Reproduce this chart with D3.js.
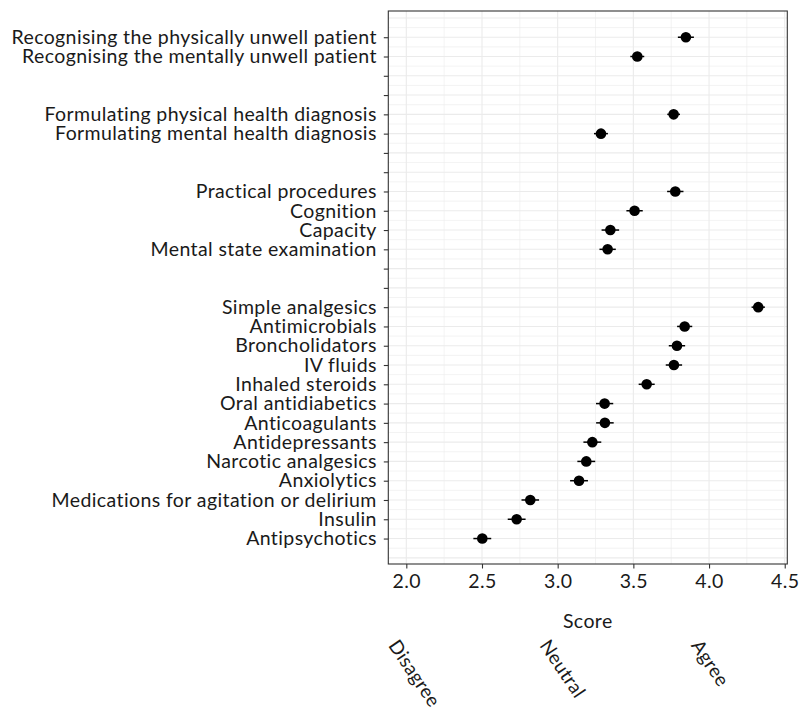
<!DOCTYPE html>
<html><head><meta charset="utf-8">
<script src="https://cdn.jsdelivr.net/npm/d3@7"></script>
<style>body{margin:0;background:#fff}text{font-family:Lato,"Open Sans",sans-serif;font-weight:400;letter-spacing:0.4px}</style>
</head><body><svg id="c" width="807" height="715"></svg>
<script>
const categories = [
 "Recognising the physically unwell patient","Recognising the mentally unwell patient","","",
 "Formulating physical health diagnosis","Formulating mental health diagnosis","","",
 "Practical procedures","Cognition","Capacity","Mental state examination","","",
 "Simple analgesics","Antimicrobials","Broncholidators","IV fluids","Inhaled steroids",
 "Oral antidiabetics","Anticoagulants","Antidepressants","Narcotic analgesics","Anxiolytics",
 "Medications for agitation or delirium","Insulin","Antipsychotics"];
const scores = [3.847,3.526,null,null,3.766,3.286,null,null,3.777,3.508,3.348,3.330,null,null,
 4.325,3.839,3.788,3.768,3.588,3.310,3.312,3.229,3.189,3.141,2.819,2.729,2.502];
const errors = [0.053,0.046,null,null,0.042,0.046,null,null,0.054,0.054,0.058,0.054,null,null,
 0.044,0.050,0.054,0.054,0.053,0.057,0.058,0.059,0.059,0.059,0.058,0.059,0.059];
const xTicks = [2.0,2.5,3.0,3.5,4.0,4.5];
const xMinor = [2.25,2.75,3.25,3.75,4.25];
const anchors = [{v:2,label:"Disagree"},{v:3,label:"Neutral"},{v:4,label:"Agree"}];

const FS = "19.5px";
const svg = d3.select("#c");
const L=388.3,R=787.3,T=11,B=564;
const x = d3.scaleLinear().domain([1.881,4.517]).range([L,R]);
const n = categories.length;
const y = d3.scaleLinear().domain([-1.36,n-1+1.32]).range([T,B]);
const g = svg.append("g");
const halfRows = d3.range(-2,2*n+1).map(d=>d/2);
g.selectAll(".hg").data(halfRows.filter(d=>y(d)>T&&y(d)<B)).join("line")
 .attr("x1",L).attr("x2",R).attr("y1",d=>y(d)).attr("y2",d=>y(d))
 .attr("stroke","#ebebeb").attr("stroke-width",d=>Number.isInteger(d)?1.1:0.6);
g.selectAll(".vm").data(xMinor).join("line")
 .attr("y1",T).attr("y2",B).attr("x1",d=>x(d)).attr("x2",d=>x(d))
 .attr("stroke","#ebebeb").attr("stroke-width",0.6);
g.selectAll(".vM").data(xTicks).join("line")
 .attr("y1",T).attr("y2",B).attr("x1",d=>x(d)).attr("x2",d=>x(d))
 .attr("stroke","#ebebeb").attr("stroke-width",1.1);
const idx = d3.range(n).filter(i=>scores[i]!=null);
g.selectAll(".eb").data(idx).join("line")
 .attr("x1",i=>x(scores[i]-errors[i])).attr("x2",i=>x(scores[i]+errors[i]))
 .attr("y1",i=>y(i)).attr("y2",i=>y(i)).attr("stroke","#000").attr("stroke-width",1.5);
g.selectAll(".pt").data(idx).join("circle")
 .attr("cx",i=>x(scores[i])).attr("cy",i=>y(i)).attr("r",5.3).attr("fill","#000");
g.append("rect").attr("x",L).attr("y",T).attr("width",R-L).attr("height",B-T)
 .attr("fill","none").attr("stroke","#333").attr("stroke-width",1.1);
const ya = svg.append("g").attr("transform",`translate(${L},0)`)
 .call(d3.axisLeft(y).tickValues(d3.range(n)).tickFormat(i=>categories[i]).tickSize(4.5).tickPadding(7));
ya.select(".domain").remove();
ya.selectAll("line").attr("stroke","#333").attr("stroke-width",1.1);
ya.selectAll("text").attr("font-size",FS).attr("fill","#1a1a1a").attr("font-family","Lato");
const xa = svg.append("g").attr("transform",`translate(0,${B})`)
 .call(d3.axisBottom(x).tickValues(xTicks).tickFormat(d3.format(".1f")).tickSize(4.5).tickPadding(6));
xa.select(".domain").remove();
xa.selectAll("line").attr("stroke","#333").attr("stroke-width",1.1);
xa.selectAll("text").attr("font-size",FS).attr("fill","#1a1a1a").attr("font-family","Lato");
svg.append("text").attr("x",(L+R)/2).attr("y",628).attr("text-anchor","middle")
 .attr("font-size",FS).attr("fill","#1a1a1a").text("Score");
svg.selectAll(".an").data(anchors).join("text")
 .attr("transform",d=>`translate(${x(d.v)-6},${637}) rotate(56)`)
 .attr("dominant-baseline","hanging").attr("font-size","19px").attr("fill","#1a1a1a")
 .text(d=>d.label);
</script></body></html>
